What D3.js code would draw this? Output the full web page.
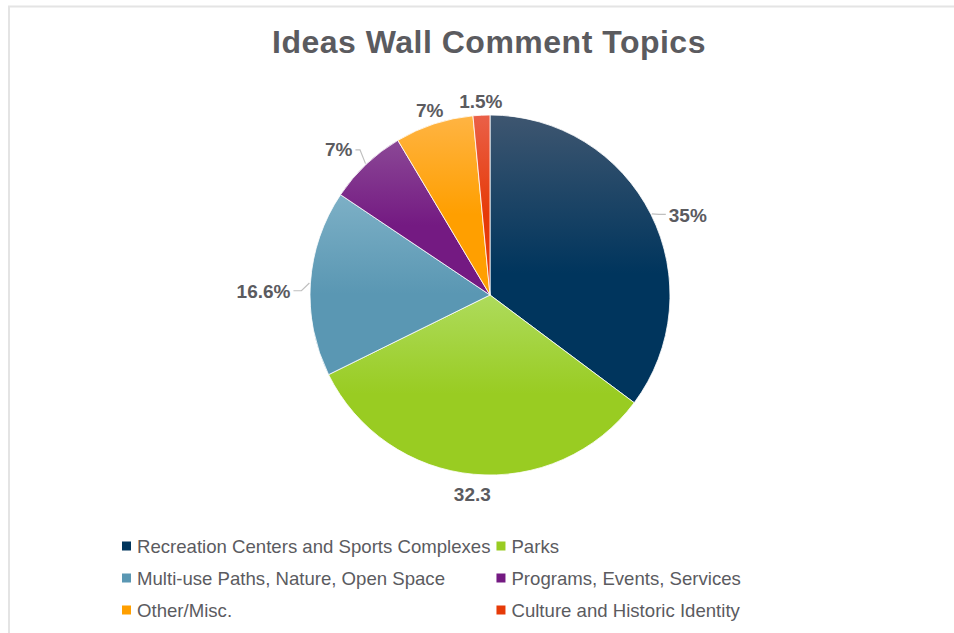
<!DOCTYPE html>
<html>
<head>
<meta charset="utf-8">
<script src="https://cdn.jsdelivr.net/npm/d3@7"></script>
<style>
  html, body { margin: 0; padding: 0; background: #fff; }
  svg { display: block; }
</style>
</head>
<body>
<svg id="chart" width="954" height="633"></svg>
<script>
const title = "Ideas Wall Comment Topics";
const categories = [
  "Recreation Centers and Sports Complexes",
  "Parks",
  "Multi-use Paths, Nature, Open Space",
  "Programs, Events, Services",
  "Other/Misc.",
  "Culture and Historic Identity"
];
const values = [35, 32.3, 16.6, 7, 7, 1.5];
const labels = ["35%", "32.3", "16.6%", "7%", "7%", "1.5%"];
const colorsTop = ["#3e5670", "#aedb5c", "#7db0c6", "#8b4896", "#ffb443", "#ea6048"];
const colorsBase = ["#00355d", "#99cc22", "#5a97b3", "#741a82", "#ff9f00", "#e63a08"];

const svg = d3.select("#chart");
const W = 954, H = 633;
const cx = 490, cy = 295, R = 180;
const textColor = "#5b5b5f";
const font = "'Liberation Sans', Arial, sans-serif";

// frame
svg.append("path")
  .attr("d", `M9,${H} L9,6.5 L${W},6.5`)
  .attr("fill", "none").attr("stroke", "#e4e4e4").attr("stroke-width", 2);

// title
svg.append("text")
  .attr("x", 489).attr("y", 52.5)
  .attr("text-anchor", "middle")
  .attr("font-family", font).attr("font-weight", "bold")
  .attr("font-size", 32).attr("letter-spacing", 0.5).attr("fill", textColor)
  .text(title);

// gradients
const defs = svg.append("defs");
categories.forEach((c, i) => {
  const g = defs.append("linearGradient").attr("id", "g" + i)
    .attr("x1", 0).attr("y1", 0).attr("x2", 0).attr("y2", 1);
  g.append("stop").attr("offset", "0%").attr("stop-color", colorsTop[i]);
  g.append("stop").attr("offset", "55%").attr("stop-color", colorsBase[i]);
  g.append("stop").attr("offset", "100%").attr("stop-color", colorsBase[i]);
});

const data = categories.map((c, i) => ({ cat: c, value: values[i], label: labels[i], i }));
const pie = d3.pie().value(d => d.value).sort(null);
const arcs = pie(data);
const arc = d3.arc().innerRadius(0).outerRadius(R);

const g = svg.append("g").attr("transform", `translate(${cx},${cy})`);
g.selectAll("path.slice").data(arcs).enter().append("path")
  .attr("class", "slice")
  .attr("d", arc)
  .attr("fill", d => `url(#g${d.data.i})`)
  .attr("stroke", "#fff").attr("stroke-width", 0.8);

// labels
const withLeader = new Set([categories[0], categories[2], categories[3]]);
arcs.forEach(a => {
  const mid = (a.startAngle + a.endAngle) / 2;
  const sx = Math.sin(mid), sy = -Math.cos(mid);
  let anchor = "middle";
  if (sx > 0.5) anchor = "start";
  else if (sx < -0.5) anchor = "end";
  const lr = anchor === "middle" ? (sy > 0 ? R + 13 : R + 14) : R + 20;
  const x = sx * lr, y0 = sy * lr;
  let dy = "0.35em";
  let yc = y0; // visual centre of label
  if (anchor === "middle" && sy > 0) { dy = "0.72em"; yc = y0 + 7; }
  if (Math.abs(sx) > 0.85) { dy = "0.85em"; yc = y0 + 9; }
  g.append("text")
    .attr("x", x).attr("y", y0)
    .attr("dy", dy)
    .attr("text-anchor", anchor)
    .attr("font-family", font).attr("font-weight", "bold")
    .attr("font-size", 19).attr("fill", textColor)
    .text(a.data.label);
  if (withLeader.has(a.data.cat)) {
    const px = sx * (R + 1), py = sy * (R + 1);
    const qx = sx * (R + 9), qy = sy * (R + 9);
    const ex = anchor === "start" ? x - 3 : x + 3;
    g.append("path")
      .attr("d", `M${px},${py} L${qx},${yc} L${ex},${yc}`)
      .attr("fill", "none").attr("stroke", "#bfbfbf").attr("stroke-width", 1.2);
  }
});

// legend
const legend = svg.append("g");
const rowY = [546, 578, 610];
const col1Sq = 122, textGap = 15;
const items = [];
categories.forEach((c, i) => {
  const row = Math.floor(i / 2), col = i % 2;
  const it = legend.append("g");
  it.append("rect").attr("width", 9).attr("height", 9)
    .attr("y", rowY[row] - 4.5).attr("fill", colorsBase[i]);
  const tx = it.append("text")
    .attr("x", textGap).attr("y", rowY[row]).attr("dy", "0.35em")
    .attr("font-family", font).attr("font-size", 18.6).attr("fill", textColor)
    .text(c);
  items.push({ it, col, w: tx.node().getComputedTextLength() });
});
const col1W = d3.max(items.filter(d => d.col === 0), d => d.w);
const col2Sq = col1Sq + textGap + col1W + 6;
items.forEach(d => d.it.attr("transform", `translate(${d.col === 0 ? col1Sq : col2Sq},0)`));
</script>
</body>
</html>
